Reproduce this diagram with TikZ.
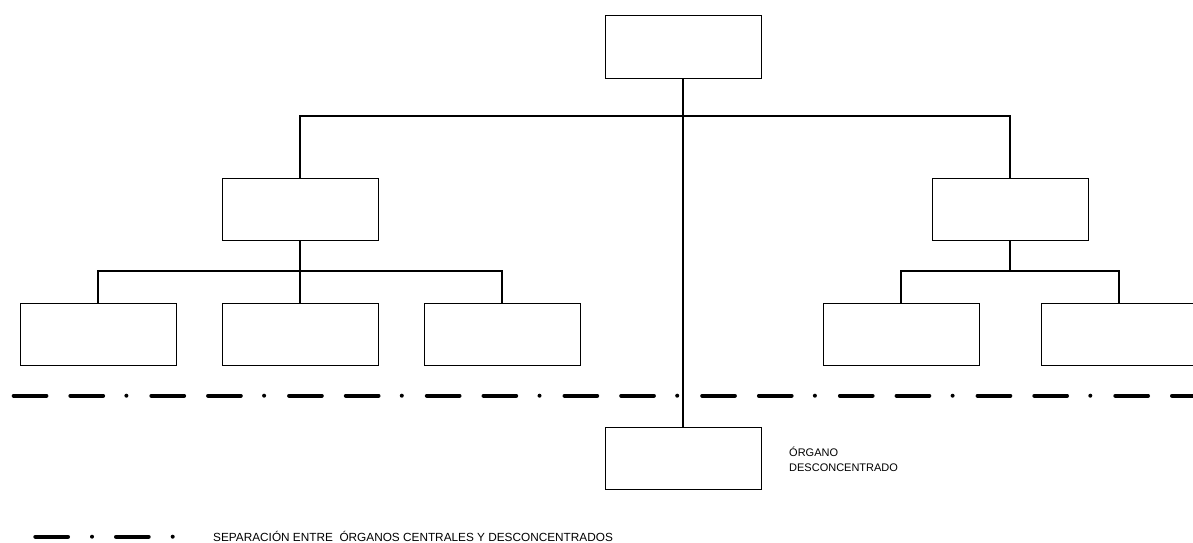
\documentclass[tikz,border=0pt]{standalone}
\usepackage{fontspec}
\setmainfont{Liberation Sans}
\begin{document}
\begin{tikzpicture}[x=1pt,y=-1pt,
  unit/.style={draw=black, line width=1pt, minimum width=156pt, minimum height=62pt,
               inner sep=0pt, outer sep=0pt, anchor=north west},
  link/.style={line width=1.1pt},
  sepline/.style={line width=4pt, line cap=round,
                  dash pattern=on 32.7pt off 24pt on 32.7pt off 23.3pt on 0pt off 25pt},
  keyline/.style={line width=4pt, line cap=round,
                  dash pattern=on 32.7pt off 24pt on 0pt off 24pt},
  lbl/.style={font=\fontsize{11}{13}\selectfont, inner sep=0pt, anchor=base west}]
\clip (0,0) rectangle (1193,543);
\fill[white] (0,0) rectangle (1193,543);

% boxes
\node[unit] (top)  at (605,16) {};
\node[unit] (midL) at (222,178) {};
\node[unit] (midR) at (932,178) {};
\node[unit] (b1)   at (20,303) {};
\node[unit] (b2)   at (222,303) {};
\node[unit] (b3)   at (424,303) {};
\node[unit] (b4)   at (823,303) {};
\node[unit] (b5)   at (1041,303) {};
\node[unit] (desc) at (605,427.5) {};

% junction points
\coordinate (hub)  at (683,116);
\coordinate (busL) at (300,271);
\coordinate (busR) at (1010,271);

% connectors
\draw[link] (top.south) -- (desc.north);
\draw[link] (midL.north) |- (hub) -| (midR.north);
\draw[link] (midL.south) -- (b2.north);
\draw[link] (b1.north) |- (busL) -| (b3.north);
\draw[link] (midR.south) -- (busR);
\draw[link] (b4.north) |- (busR) -| (b5.north);

% separation line
\draw[sepline] (13.7,395.7) -- (1200,395.7);

% label of the deconcentrated unit
\node[lbl] (descA) at (789,456) {ÓRGANO};
\node[lbl] (descB) at (789,471.7) {DESCONCENTRADO};

% legend
\draw[keyline] (35.3,536.7) -- (185,536.7);
\node[lbl, font=\fontsize{11.8}{14}\selectfont] (key) at (213,541) {SEPARACIÓN ENTRE\ \ ÓRGANOS CENTRALES Y DESCONCENTRADOS};
\end{tikzpicture}
\end{document}
